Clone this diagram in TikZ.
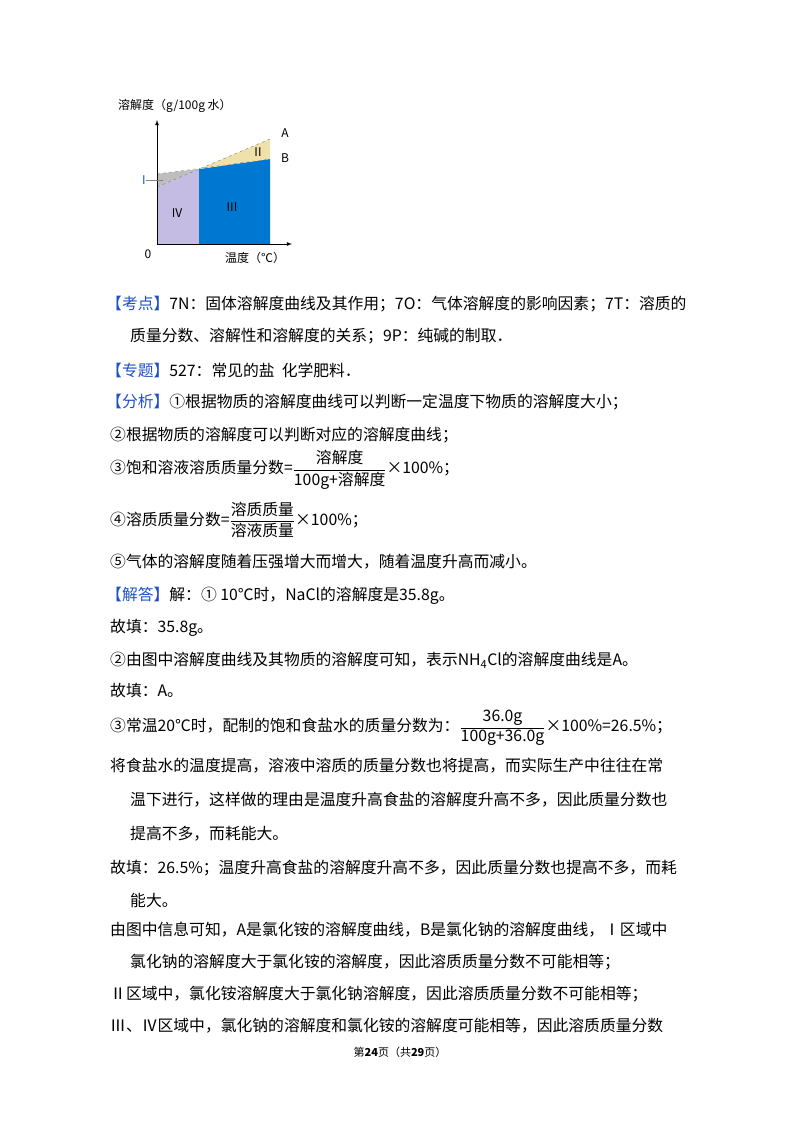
\documentclass[tikz,border=0pt]{standalone}
\usepackage{fontspec}
\usepackage{amsmath}
\setmainfont{Noto Sans CJK SC}
\definecolor{kblue}{RGB}{30,80,200}
\definecolor{fillIV}{RGB}{196,188,226}
\definecolor{fillIII}{RGB}{0,120,210}
\definecolor{fillII}{RGB}{238,226,170}
\definecolor{fillI}{RGB}{190,190,190}
\newcommand{\kw}[1]{{\color{kblue}【#1】}}
\begin{document}
\begin{tikzpicture}[x=1pt, y=-1pt,
    txt/.style={anchor=west, inner sep=0pt, font=\fontsize{15.8}{18}\selectfont},
    lbl/.style={inner sep=0pt, font=\fontsize{12}{14}\selectfont}]
  \useasboundingbox (0,0) rectangle (800,1132);
  % Chart
  \coordinate (o) at (157,244);
  \coordinate (x) at (292,244);
  \coordinate (y) at (157,120);
  \coordinate (m) at (199,169);
  \coordinate (a0) at (157,187);
  \coordinate (b0) at (157,174);
  \coordinate (a1) at (270,139);
  \coordinate (b1) at (270,159);
  \fill[fillIV] (o) -- (a0) -- (m) -- (199,244) -- cycle;
  \fill[fillIII] (199,244) -- (m) -- (b1) -- (270,244) -- cycle;
  \fill[fillII] (m) -- (a1) -- (b1) -- cycle;
  \fill[fillI] (b0) -- (m) -- (a0) -- cycle;
  \draw[gray, dashed, thin] (a0) -- (a1) (b0) -- (b1);
  \draw[-latex, thick] (o) -- (y);
  \draw[-latex, thick] (o) -- (x);
  \node[lbl, anchor=west] (ylab) at (118,106) {溶解度（g/100g 水）};
  \node[lbl] (xlab) at (255,258) {温度（℃）};
  \node[lbl] (zero) at (148,254) {0};
  \node[lbl] (la) at (285,133) {A};
  \node[lbl] (lb) at (285,158) {B};
  \node[lbl, text=kblue] (l1) at (144,180) {I};
  \coordinate (l1e) at (163,180);
  \draw[gray] (l1.east) -- (l1e);
  \node[lbl] (l2) at (258,152) {II};
  \node[lbl] (l3) at (232,207) {III};
  \node[lbl] (l4) at (177,213) {IV};
  % Text
  \node[txt] (t1) at (106,304) {\kw{考点}7N：固体溶解度曲线及其作用；7O：气体溶解度的影响因素；7T：溶质的};
  \node[txt] (t2) at (130,336) {质量分数、溶解性和溶解度的关系；9P：纯碱的制取．};
  \node[txt] (t3) at (106,370) {\kw{专题}527：常见的盐\ \ 化学肥料．};
  \node[txt] (t4) at (106,402) {\kw{分析}①根据物质的溶解度曲线可以判断一定温度下物质的溶解度大小；};
  \node[txt] (t5) at (110,435) {②根据物质的溶解度可以判断对应的溶解度曲线；};
  \node[txt] (t6) at (110,470) {③饱和溶液溶质质量分数=$\dfrac{\text{溶解度}}{\text{100g+溶解度}}$×100\%；};
  \node[txt] (t7) at (110,520) {④溶质质量分数=$\dfrac{\text{溶质质量}}{\text{溶液质量}}$×100\%；};
  \node[txt] (t8) at (110,562) {⑤气体的溶解度随着压强增大而增大，随着温度升高而减小。};
  \node[txt] (t9) at (106,596) {\kw{解答}解：① 10℃时，NaCl的溶解度是35.8g。};
  \node[txt] (t10) at (110,628) {故填：35.8g。};
  \node[txt] (t11) at (110,660) {②由图中溶解度曲线及其物质的溶解度可知，表示NH\textsubscript{4}Cl的溶解度曲线是A。};
  \node[txt] (t12) at (110,690) {故填：A。};
  \node[txt] (t13) at (110,728) {③常温20℃时，配制的饱和食盐水的质量分数为：$\dfrac{\text{36.0g}}{\text{100g+36.0g}}$×100\%=26.5\%；};
  \node[txt] (t14) at (110,766) {将食盐水的温度提高，溶液中溶质的质量分数也将提高，而实际生产中往往在常};
  \node[txt] (t15) at (130,800) {温下进行，这样做的理由是温度升高食盐的溶解度升高不多，因此质量分数也};
  \node[txt] (t16) at (130,834) {提高不多，而耗能大。};
  \node[txt] (t17) at (110,868) {故填：26.5\%；温度升高食盐的溶解度升高不多，因此质量分数也提高不多，而耗};
  \node[txt] (t18) at (130,900) {能大。};
  \node[txt] (t19) at (110,930) {由图中信息可知，A是氯化铵的溶解度曲线，B是氯化钠的溶解度曲线，Ⅰ区域中};
  \node[txt] (t20) at (130,962) {氯化钠的溶解度大于氯化铵的溶解度，因此溶质质量分数不可能相等；};
  \node[txt] (t21) at (110,994) {Ⅱ区域中，氯化铵溶解度大于氯化钠溶解度，因此溶质质量分数不可能相等；};
  \node[txt] (t22) at (110,1026) {Ⅲ、Ⅳ区域中，氯化钠的溶解度和氯化铵的溶解度可能相等，因此溶质质量分数};
  \node[inner sep=0pt, font=\fontsize{11}{13}\selectfont] (foot) at (400,1052) {第\textbf{24}页（共\textbf{29}页）};
\end{tikzpicture}
\end{document}
